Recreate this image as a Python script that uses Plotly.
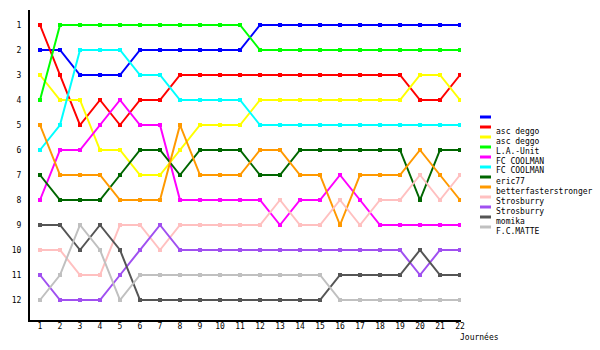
import plotly.graph_objects as go

days = list(range(1, 23))
day_labels = [str(d) for d in days]
rank_ticks = list(range(1, 13))

names = ["", "asc deggo", "asc deggo", "L.A.-Unit", "FC COOLMAN", "FC COOLMAN",
         "eric77", "betterfasterstronger", "Strosburry", "Strosburry", "momika", "F.C.MATTE"]
colors = ["#0000ff", "#ff0000", "#ffff00", "#00ff00", "#ff00ff", "#00ffff",
          "#006600", "#ff9900", "#ffc0c0", "#a050f0", "#555555", "#c0c0c0"]

blue    = [2, 2, 3, 3, 3, 2, 2, 2, 2, 2, 2, 1, 1, 1, 1, 1, 1, 1, 1, 1, 1, 1]
red     = [1, 3, 5, 4, 5, 4, 4, 3, 3, 3, 3, 3, 3, 3, 3, 3, 3, 3, 3, 4, 4, 3]
yellow  = [3, 4, 4, 6, 6, 7, 7, 6, 5, 5, 5, 4, 4, 4, 4, 4, 4, 4, 4, 3, 3, 4]
green   = [4, 1, 1, 1, 1, 1, 1, 1, 1, 1, 1, 2, 2, 2, 2, 2, 2, 2, 2, 2, 2, 2]
magenta = [8, 6, 6, 5, 4, 5, 5, 8, 8, 8, 8, 8, 9, 8, 8, 7, 8, 9, 9, 9, 9, 9]
cyan    = [6, 5, 2, 2, 2, 3, 3, 4, 4, 4, 4, 5, 5, 5, 5, 5, 5, 5, 5, 5, 5, 5]
dgreen  = [7, 8, 8, 8, 7, 6, 6, 7, 6, 6, 6, 7, 7, 6, 6, 6, 6, 6, 6, 8, 6, 6]
orange  = [5, 7, 7, 7, 8, 8, 8, 5, 7, 7, 7, 6, 6, 7, 7, 9, 7, 7, 7, 6, 7, 8]
pink    = [10, 10, 11, 11, 9, 9, 10, 9, 9, 9, 9, 9, 8, 9, 9, 8, 9, 8, 8, 7, 8, 7]
purple  = [11, 12, 12, 12, 11, 10, 9, 10, 10, 10, 10, 10, 10, 10, 10, 10, 10, 10, 10, 11, 10, 10]
dgray   = [9, 9, 10, 9, 10, 12, 12, 12, 12, 12, 12, 12, 12, 12, 12, 11, 11, 11, 11, 10, 11, 11]
lgray   = [12, 11, 9, 10, 12, 11, 11, 11, 11, 11, 11, 11, 11, 11, 11, 12, 12, 12, 12, 12, 12, 12]

series = [blue, red, yellow, green, magenta, cyan, dgreen, orange, pink, purple, dgray, lgray]

FONT = "DejaVu Sans Mono"
FS = 8

fig = go.Figure()
for name, col, vals in zip(names, colors, series):
    fig.add_trace(go.Scatter(
        x=days, y=vals, mode="lines+markers", name=name,
        line=dict(color=col, width=2),
        marker=dict(symbol="square", size=4, color=col),
        showlegend=False, hoverinfo="skip"))

# plot area in pixels
L, R, T, B = 30, 461, 10, 320
W, H = R - L, B - T

def px(x):
    return (x - L) / W

def py(y):
    return (B - y) / H

shapes = []
annotations = []
for i, (name, col) in enumerate(zip(names, colors)):
    yl = 117 + 10 * i
    shapes.append(dict(type="line", xref="paper", yref="paper",
                       x0=px(480), x1=px(491), y0=py(yl), y1=py(yl),
                       line=dict(color=col, width=3)))
    if name:
        annotations.append(dict(xref="paper", yref="paper", x=px(494), y=py(yl + 4),
                                text=name, showarrow=False, xanchor="left", yanchor="middle",
                                font=dict(family=FONT, size=FS, color="black")))

annotations.append(dict(xref="paper", yref="paper", x=px(458), y=py(337),
                        text="Journées", showarrow=False, xanchor="left", yanchor="middle",
                        font=dict(family=FONT, size=FS, color="black")))

fig.update_layout(
    width=600, height=350,
    margin=dict(l=L, r=600 - R, t=T, b=350 - B),
    paper_bgcolor="white", plot_bgcolor="white",
    font=dict(family=FONT, size=FS, color="black"),
    shapes=shapes, annotations=annotations,
    xaxis=dict(range=[0.5, 22.05], tickvals=days, ticktext=day_labels,
               showgrid=False, zeroline=False, showline=True, linecolor="black", linewidth=2,
               ticks="", ticklabelstandoff=-3, tickfont=dict(family=FONT, size=FS)),
    yaxis=dict(range=[12.8, 0.4], tickvals=rank_ticks, ticktext=[str(r) for r in rank_ticks],
               showgrid=False, zeroline=False, showline=True, linecolor="black", linewidth=2,
               ticks="", ticklabelstandoff=5, tickfont=dict(family=FONT, size=FS)),
)

fig.write_html("out.html")
